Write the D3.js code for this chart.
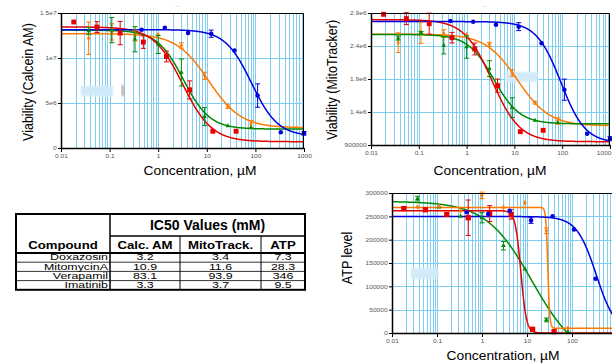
<!DOCTYPE html>
<html><head><meta charset="utf-8">
<script src="https://cdn.jsdelivr.net/npm/d3@7"></script>
<style>body{margin:0;background:#fff}svg{display:block}</style>
</head><body><svg id="c" width="612" height="363"></svg>
<script>
// ---------------- DATA ----------------
const compounds = ["Doxazosin", "MitomycinA", "Verapamil", "Imatinib"];
const colors = ["#e60000", "#ff7a00", "#0000e0", "#008a00"];

// concentrations (uM)
const concDox  = [0.0183, 0.0549, 0.165, 0.494, 1.48, 4.44, 13.3, 40];
const concMito = [0.037, 0.111, 0.333, 1, 3, 9, 27, 81];
const concVera = [0.457, 1.37, 4.12, 12.3, 37, 111, 333, 1000];
const concIma  = [0.037, 0.111, 0.333, 1, 3, 9, 27, 81];

// Calcein AM viability
const calcDox     = [1.40e7, 1.344e7, 1.277e7, 1.177e7, 1.017e7, 0.646e7, 0.186e7, 0.186e7];
const calcDoxErr  = [0, 0.06e7, 0.13e7, 0.07e7, 0.06e7, 0.10e7, 0, 0];
const calcMito    = [1.22e7, 1.29e7, 1.25e7, 1.26e7, 1.14e7, 0.802e7, 0.46e7, 0.267e7];
const calcMitoErr = [0.18e7, 0.09e7, 0.06e7, 0, 0.03e7, 0.04e7, 0.02e7, 0.04e7];
const calcVera    = [1.315e7, 1.337e7, 1.277e7, 1.27e7, 1.084e7, 0.583e7, 0.175e7, 0.163e7];
const calcVeraErr = [0, 0, 0, 0.04e7, 0, 0.13e7, 0, 0.02e7];
const calcIma     = [1.30e7, 1.31e7, 1.208e7, 1.15e7, 0.839e7, 0.349e7, 0.245e7, 0.225e7];
const calcImaErr  = [0.04e7, 0.14e7, 0.14e7, 0.10e7, 0.15e7, 0.10e7, 0, 0];
const calcFitTop    = [1.345e7, 1.27e7, 1.315e7, 1.31e7];
const calcFitBottom = [0.07e7, 0.225e7, 0.13e7, 0.21e7];
const calcFitIC50   = [3.2, 10.9, 83.1, 3.3];
const calcFitHill   = [1.45, 1.3, 1.6, 1.6];
const calcYTicks  = [0, 5e6, 1e7, 1.5e7];
const calcYLabels = ["0", "5e6", "1e7", "1.5e7"];

// MitoTracker viability
const mitoDox     = [2.88e6, 2.814e6, 2.738e6, 2.526e6, 2.355e6, 1.799e6, 1.102e6, 1.122e6];
const mitoDoxErr  = [0, 0.09e6, 0.16e6, 0.08e6, 0.09e6, 0.10e6, 0, 0];
const mitoMito    = [2.45e6, 2.60e6, 2.587e6, 2.572e6, 2.425e6, 1.991e6, 1.541e6, 1.264e6];
const mitoMitoErr = [0.15e6, 0.16e6, 0.06e6, 0, 0.03e6, 0.05e6, 0.02e6, 0.05e6];
const mitoVera    = [2.779e6, 2.769e6, 2.723e6, 2.693e6, 2.44e6, 1.738e6, 1.072e6, 0.996e6];
const mitoVeraErr = [0, 0, 0, 0.06e6, 0, 0.16e6, 0, 0.03e6];
const mitoIma     = [2.52e6, 2.60e6, 2.41e6, 2.385e6, 2.057e6, 1.466e6, 1.274e6, 1.24e6];
const mitoImaErr  = [0.03e6, 0.02e6, 0.13e6, 0.17e6, 0.12e6, 0.15e6, 0, 0];
const mitoFitTop    = [2.80e6, 2.58e6, 2.77e6, 2.575e6];
const mitoFitBottom = [0.95e6, 1.19e6, 0.93e6, 1.22e6];
const mitoFitIC50   = [3.4, 11.6, 93.9, 3.7];
const mitoFitHill   = [1.5, 1.3, 1.7, 1.6];
const mitoYTicks  = [0.9e6, 1.4e6, 1.9e6, 2.4e6, 2.9e6];
const mitoYLabels = ["900000", "1.4e6", "1.9e6", "2.4e6", "2.9e6"];

// ATP level
const atpDox     = [266.6e3, 264e3, 254e3, 247e3, 256e3, 254e3, 8e3, 3e3];
const atpDoxErr  = [0, 0, 0, 38e3, 17e3, 10e3, 0, 0];
const atpMito    = [270e3, 272e3, 262e3, 295e3, 269e3, 279e3, 219e3, 10e3];
const atpMitoErr = [0, 0, 0, 7e3, 0, 0, 6e3, 0];
const atpVera    = [259e3, 255e3, 262e3, 241e3, 250e3, 222e3, 116e3, 20e3];
const atpVeraErr = [0, 0, 0, 6e3, 0, 0, 0, 0];
const atpIma     = [288e3, 270e3, 250e3, 247e3, 187e3, 137e3, 28e3, 3e3];
const atpImaErr  = [5e3, 0, 0, 11e3, 9e3, 0, 4e3, 0];
const atpFitTop    = [262e3, 269e3, 249.5e3, 282e3];
const atpFitBottom = [0, 10e3, 0, -60e3];
const atpFitIC50   = [7.3, 29, 346, 13];
const atpFitHill   = [7, 20, 2, 0.85];
const atpYTicks  = [0, 50000, 100000, 150000, 200000, 250000, 300000];
const atpYLabels = ["0", "50000", "100000", "150000", "200000", "250000", "300000"];

const xTicks  = [0.01, 0.1, 1, 10, 100, 1000];
const xLabels = ["0.01", "0.1", "1", "10", "100", "1000"];

// IC50 table
const tableHeader = ["Compound", "Calc. AM", "MitoTrack.", "ATP"];
const tableCalc = ["3.2", "10.9", "83.1", "3.3"];
const tableMito = ["3.4", "11.6", "93.9", "3.7"];
const tableATP  = ["7.3", "28.3", "346", "9.5"];

// ---------------- DRAWING ----------------
const svg = d3.select("#c");
const FONT = "'Liberation Sans', Arial, sans-serif";
const GRID = "#7fcdf0";
const defs = svg.append("defs");
defs.append("filter").attr("id", "blur").append("feGaussianBlur").attr("stdDeviation", 1.2);

function txt(parent, x, y, s, o) {
  return parent.append("text")
    .attr("transform", `translate(${x},${y}) scale(${o.sx || 1},1)` + (o.rot ? ` rotate(${o.rot})` : ""))
    .attr("text-anchor", o.anchor || "start")
    .attr("font-family", FONT).attr("font-size", o.size)
    .attr("font-weight", o.weight || "normal")
    .attr("fill", o.fill || "#000").text(s);
}

const symbols = [d3.symbolSquare, d3.symbolDiamond, d3.symbolCircle, d3.symbolTriangle];

function panel(p) {
  const g = svg.append("g");
  const x = d3.scaleLog().domain([0.01, 1000]).range([p.left, p.right]);
  const y = d3.scaleLinear().domain(p.yDomain).range([p.bottom, p.top]);
  const clipId = "clip" + p.id;
  defs.append("clipPath").attr("id", clipId).append("rect")
    .attr("x", p.left).attr("y", p.top).attr("width", p.right - p.left).attr("height", p.bottom - p.top);

  // vertical grid (log minor)
  const minor = [];
  for (let e = -2; e < 3; e++) for (let m = 1; m < 10; m++) minor.push(m * Math.pow(10, e));
  g.append("g").selectAll("line").data(minor.filter(v => v > 0.0101)).join("line")
    .attr("x1", d => Math.round(x(d)) + 0.5).attr("x2", d => Math.round(x(d)) + 0.5)
    .attr("y1", p.top).attr("y2", p.bottom).attr("stroke", GRID).attr("stroke-width", 1);
  // horizontal grid
  g.append("g").selectAll("line").data(p.yTicks.slice(1, -1)).join("line")
    .attr("x1", p.left).attr("x2", p.right)
    .attr("y1", d => Math.round(y(d)) + 0.5).attr("y2", d => Math.round(y(d)) + 0.5)
    .attr("stroke", GRID).attr("stroke-width", 1);

  // faint blobs
  (p.blobs || []).forEach(b => g.append("rect").attr("x", b[0]).attr("y", b[1]).attr("width", b[2]).attr("height", b[3])
    .attr("fill", b[4]).attr("filter", "url(#blur)"));

  // fitted curves
  const cs = d3.range(0, 801).map(i => Math.pow(10, -2 + 5 * i / 800));
  const line = d3.line().x(d => x(d[0])).y(d => y(d[1]));
  const cg = g.append("g").attr("clip-path", `url(#${clipId})`);
  p.order.forEach(k => {
    const f = p.fit[k];
    const pts = cs.map(c => [c, f.b + (f.t - f.b) / (1 + Math.pow(c / f.ic, f.h))]);
    cg.append("path").attr("d", line(pts)).attr("fill", "none").attr("stroke", colors[k]).attr("stroke-width", 1.5);
  });

  // error bars + markers
  p.order.forEach(k => {
    const s = p.series[k];
    const pts = s.conc.map((c, i) => ({c, v: s.val[i], e: s.err[i]})).filter(d => d.c <= 1000);
    const eg = g.append("g").attr("stroke", colors[k]).attr("stroke-width", 1);
    pts.filter(d => d.e > 0).forEach(d => {
      const xx = x(d.c), y1 = y(d.v - d.e), y2 = y(d.v + d.e);
      eg.append("line").attr("x1", xx).attr("x2", xx).attr("y1", y1).attr("y2", y2);
      eg.append("line").attr("x1", xx - 2.5).attr("x2", xx + 2.5).attr("y1", y1).attr("y2", y1);
      eg.append("line").attr("x1", xx - 2.5).attr("x2", xx + 2.5).attr("y1", y2).attr("y2", y2);
    });
    g.append("g").selectAll("path").data(pts).join("path")
      .attr("transform", d => `translate(${x(d.c)},${y(d.v)})`)
      .attr("d", d3.symbol().type(symbols[k]).size(p.sizes[k]))
      .attr("fill", colors[k]);
  });

  // frame (top/right)
  g.append("path").attr("d", `M${p.left},${p.top + 0.5}H${p.right - 0.5}V${p.bottom}`)
    .attr("fill", "none").attr("stroke", "#000").attr("stroke-width", 1);

  // y axis
  const ya = g.append("g").attr("transform", `translate(${p.left},0)`);
  ya.call(d3.axisLeft(y).tickValues(p.yMinor).tickSize(2).tickFormat("").tickSizeOuter(0));
  ya.call(d3.axisLeft(y).tickValues(p.yTicks).tickSize(3).tickPadding(1)
    .tickFormat((d, i) => p.yLabels[i]).tickSizeOuter(0));
  ya.selectAll(".domain").attr("stroke-width", 1.5);
  ya.selectAll("text").attr("font-size", 6).attr("font-family", FONT).attr("fill", "#555")
    .attr("transform", "scale(1.1,1)");

  // x axis
  const xa = g.append("g").attr("transform", `translate(0,${p.bottom})`);
  xa.call(d3.axisBottom(x).tickValues(minor.filter(v => v > 0.0101)).tickSize(2).tickFormat("").tickSizeOuter(0));
  const shownTicks = xTicks.filter(v => x(v) < 612);
  xa.call(d3.axisBottom(x).tickValues(shownTicks).tickSize(4).tickPadding(2)
    .tickFormat((d) => xLabels[xTicks.indexOf(d)]).tickSizeOuter(0));
  xa.selectAll(".domain").attr("stroke-width", 1.5);
  xa.selectAll("text").attr("font-size", 6).attr("font-family", FONT).attr("fill", "#555")
    .attr("transform", "scale(1.1,1)")
    .attr("text-anchor", d => (x(d) > 600 ? "end" : "middle"))
    .attr("x", d => (x(d) > 600 ? (611 - x(d)) / 1.1 : 0));

  // titles
  txt(svg, p.xTitle[0], p.xTitle[1], "Concentration, \u00B5M", {size: 12, sx: 1.15, anchor: "middle"});
  txt(svg, p.yTitle[0], p.yTitle[1], p.yName, {size: 12.5, sx: 1.12, anchor: "middle", rot: -90});
}

function mk(c1, v1, e1, c2, v2, e2, c3, v3, e3, c4, v4, e4) {
  return [{conc: c1, val: v1, err: e1}, {conc: c2, val: v2, err: e2}, {conc: c3, val: v3, err: e3}, {conc: c4, val: v4, err: e4}];
}
function fits(t, b, ic, h) { return t.map((_, i) => ({t: t[i], b: b[i], ic: ic[i], h: h[i]})); }

panel({
  id: 1, left: 61, right: 304, top: 13, bottom: 148, yDomain: [0, 1.5e7],
  yTicks: calcYTicks, yLabels: calcYLabels, yMinor: d3.range(0, 1.5e7 + 1, 1e6),
  series: mk(concDox, calcDox, calcDoxErr, concMito, calcMito, calcMitoErr, concVera, calcVera, calcVeraErr, concIma, calcIma, calcImaErr),
  fit: fits(calcFitTop, calcFitBottom, calcFitIC50, calcFitHill),
  order: [1, 3, 0, 2], sizes: [24, 9, 16, 9],
  xTitle: [200, 175], yTitle: [33, 82], yName: "Viability (Calcein AM)",
  blobs: [[81, 86, 32, 10, "#cfe9f8"], [121.5, 85, 2.5, 11, "#a8a8a8"]]
});
panel({
  id: 2, left: 371, right: 610, top: 13, bottom: 145, yDomain: [0.9e6, 2.9e6],
  yTicks: mitoYTicks, yLabels: mitoYLabels, yMinor: d3.range(0.9e6, 2.9e6 + 1, 1e5),
  series: mk(concDox, mitoDox, mitoDoxErr, concMito, mitoMito, mitoMitoErr, concVera, mitoVera, mitoVeraErr, concIma, mitoIma, mitoImaErr),
  fit: fits(mitoFitTop, mitoFitBottom, mitoFitIC50, mitoFitHill),
  order: [1, 3, 0, 2], sizes: [24, 9, 16, 9],
  xTitle: [490, 175], yTitle: [337, 80], yName: "Viability (MitoTracker)",
  blobs: [[505, 72, 33, 10, "#d3ebf9"]]
});
panel({
  id: 3, left: 392, right: 617, top: 193, bottom: 333, yDomain: [0, 300000],
  yTicks: atpYTicks, yLabels: atpYLabels, yMinor: d3.range(0, 300001, 10000),
  series: mk(concDox, atpDox, atpDoxErr, concMito, atpMito, atpMitoErr, concVera, atpVera, atpVeraErr, concIma, atpIma, atpImaErr),
  fit: fits(atpFitTop, atpFitBottom, atpFitIC50, atpFitHill),
  order: [3, 1, 0, 2], sizes: [28, 10, 16, 10],
  xTitle: [503, 359.5], yTitle: [352, 258], yName: "ATP level",
  blobs: [[411, 268, 27, 11, "#d3ebf9"]]
});

// tiny marks above the top charts
txt(svg, 176, 8, "- \u00B7", {size: 5, fill: "#888"});
txt(svg, 483, 8, "- \u00B7", {size: 5, fill: "#888"});

// ---------------- TABLE ----------------
const T = svg.append("g");
const tx = [16, 110, 180, 261, 305];
const ty = [214, 236, 253, 262.2, 271.4, 280.6, 289.8];
const hl = (x1, x2, yy, w) => T.append("line").attr("x1", x1).attr("x2", x2).attr("y1", yy).attr("y2", yy).attr("stroke", "#000").attr("stroke-width", w);
const vl = (xx, y1, y2, w) => T.append("line").attr("x1", xx).attr("x2", xx).attr("y1", y1).attr("y2", y2).attr("stroke", "#000").attr("stroke-width", w);
hl(tx[1], tx[4], ty[1], 1.5);
hl(tx[0], tx[4], ty[2], 2);
[3, 4, 5].forEach(i => hl(tx[0], tx[4], ty[i], 0.8));
vl(tx[1], ty[0], ty[6], 1.5);
vl(tx[2], ty[1], ty[6], 1);
vl(tx[3], ty[1], ty[6], 1);
T.append("rect").attr("x", tx[0]).attr("y", ty[0]).attr("width", tx[4] - tx[0]).attr("height", ty[6] - ty[0])
  .attr("fill", "none").attr("stroke", "#000").attr("stroke-width", 2);

txt(T, (tx[1] + tx[4]) / 2, 230, "IC50 Values (mM)", {size: 14, weight: "bold", anchor: "middle", sx: 1.0});
const colC = [63, 145, 220.5, 283];
tableHeader.forEach((h, i) => txt(T, colC[i], 248.5, h, {size: 11, weight: "bold", anchor: "middle", sx: 1.2}));
compounds.forEach((c, r) => {
  const by = 260.4 + r * 9.2;
  txt(T, 108, by, c, {size: 9, anchor: "end", sx: 1.38});
  txt(T, colC[1], by, tableCalc[r], {size: 9, anchor: "middle", sx: 1.38});
  txt(T, colC[2], by, tableMito[r], {size: 9, anchor: "middle", sx: 1.38});
  txt(T, colC[3], by, tableATP[r], {size: 9, anchor: "middle", sx: 1.38});
});
</script></body></html>
